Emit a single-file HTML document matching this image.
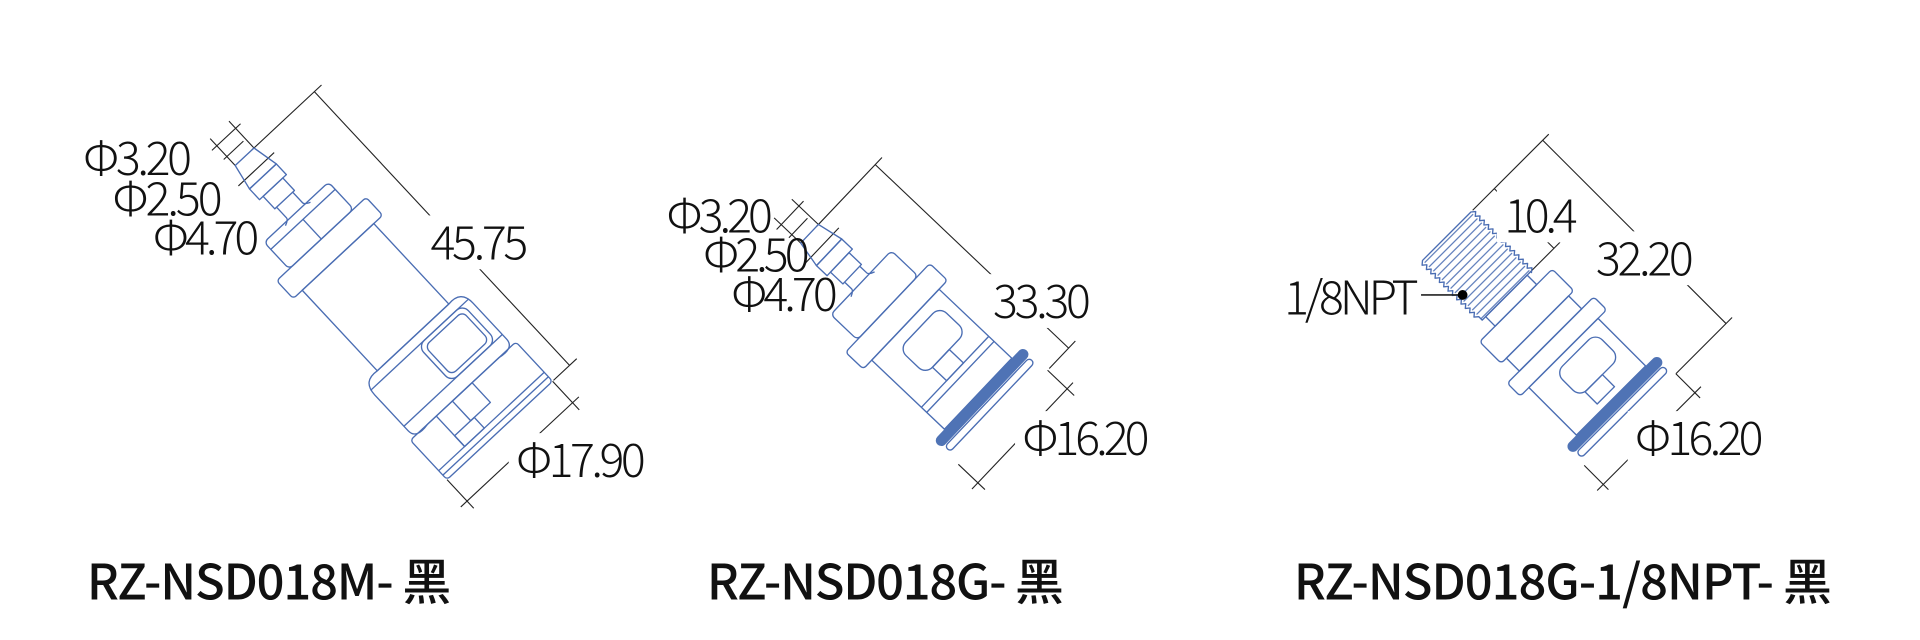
<!DOCTYPE html>
<html><head><meta charset="utf-8"><style>
html,body{margin:0;padding:0;background:#fff;}
svg{display:block;}
.b{fill:none;stroke:#4a6db3;stroke-width:1.1;stroke-linejoin:round;}
.k{fill:none;stroke:#222;stroke-width:0.9;}
.t{font-family:"Noto Sans CJK SC","Liberation Sans",sans-serif;fill:#111;font-size:38px;font-weight:300;}
.h{font-family:"Noto Sans CJK SC","Liberation Sans",sans-serif;fill:#111;font-size:40px;font-weight:500;}
.w{fill:#fff;}
</style></head><body>
<svg width="1920" height="640" viewBox="0 0 1570 523" xmlns="http://www.w3.org/2000/svg">
<defs>
<pattern id="thr" patternUnits="userSpaceOnUse" width="5" height="10"><line x1="2.5" y1="0" x2="2.5" y2="10" stroke="#4a6db3" stroke-width="0.9"/></pattern>
<pattern id="hat" patternUnits="userSpaceOnUse" width="4" height="4" patternTransform="rotate(30)"><line x1="0" y1="0" x2="0" y2="4" stroke="#9fb3dd" stroke-width="1"/></pattern>
</defs>

<!-- ===== Drawing 1 ===== -->
<g transform="translate(200,128) rotate(47)">
  <line class="k" x1="0" y1="-86" x2="0" y2="-8"/>
  <line class="k" x1="0" y1="-78" x2="306" y2="-78"/>
  <line class="k" x1="306" y1="-86" x2="306" y2="-60"/>
  <line class="k" x1="306" y1="-59" x2="338" y2="-59"/>
  <line class="k" x1="306" y1="59" x2="338" y2="59"/>
  <line class="k" x1="330" y1="-66" x2="330" y2="66"/>
  <line class="k" x1="-30" y1="-10.5" x2="0" y2="-10.5"/>
  <line class="k" x1="-30" y1="10.5" x2="0" y2="10.5"/>
  <line class="k" x1="-22" y1="-16" x2="-22" y2="16"/>
  <line class="k" x1="-10" y1="-8" x2="-10" y2="14"/>
  <line class="k" x1="14" y1="-20" x2="14" y2="20"/>
  <path class="b" d="M0,-10.5 L22,-15 L22,15 L0,10.5 Z" fill="url(#hat)"/>
  <rect class="b" x="22" y="-15" width="12" height="30"/>
  <rect class="b" x="34" y="-11" width="14" height="22"/>
  <path class="b" d="M48,-9 L60,-9 Q62,-9 64,-14 M48,9 L60,9 Q62,9 64,14"/>
  <rect class="b" x="62" y="-36" width="30" height="72" rx="4"/>
  <line class="b" x1="70" y1="-36" x2="70" y2="36"/>
  <line class="b" x1="70" y1="0" x2="92" y2="0"/>
  <rect class="b" x="92" y="-50" width="20" height="100" rx="3"/>
  <rect class="b" x="112" y="-40" width="90" height="80"/>
  <path class="b" d="M202,-40 Q200,-55 215,-55 L255,-55 Q265,-55 262,-40 L262,40 Q265,55 255,55 L215,55 Q200,55 202,40 Z"/>
  <rect class="b" x="210" y="-48" width="40" height="50" rx="7"/>
  <rect class="b" x="214" y="-44" width="32" height="42" rx="5"/>
  <line class="b" x1="210" y1="-55" x2="210" y2="55"/>
  <line class="b" x1="250" y1="-55" x2="250" y2="55"/>
  <rect class="b" x="262" y="-59" width="44" height="118" rx="3"/>
  <line class="b" x1="296" y1="-59" x2="296" y2="59"/>
  <line class="b" x1="301" y1="-59" x2="301" y2="59"/>
  <rect class="b" x="262" y="-10" width="22" height="22"/>
  <rect class="b" x="284" y="8" width="12" height="22"/>
  <line class="b" x1="262" y1="30" x2="296" y2="30"/>
</g>
<text class="t" x="68" y="143" textLength="89">Φ3.20</text>
<text class="t" x="92" y="176" textLength="90">Φ2.50</text>
<text class="t" x="125" y="208" textLength="87">Φ4.70</text>
<rect class="w" x="346" y="176" width="92" height="44"/>
<text class="t" x="352" y="212" textLength="80">45.75</text>
<rect class="w" x="416" y="354" width="118" height="44"/>
<text class="t" x="422" y="390" textLength="106">Φ17.90</text>

<!-- ===== Drawing 2 ===== -->
<g transform="translate(662,191) rotate(43.5)">
  <line class="k" x1="0" y1="-86" x2="0" y2="-8"/>
  <line class="k" x1="0" y1="-78" x2="218" y2="-78"/>
  <line class="k" x1="218" y1="-86" x2="218" y2="-55"/>
  <line class="k" x1="218" y1="-53" x2="248" y2="-53"/>
  <line class="k" x1="218" y1="53" x2="248" y2="53"/>
  <line class="k" x1="240" y1="-60" x2="240" y2="60"/>
  <line class="k" x1="-30" y1="-10.5" x2="0" y2="-10.5"/>
  <line class="k" x1="-30" y1="10.5" x2="0" y2="10.5"/>
  <line class="k" x1="-22" y1="-16" x2="-22" y2="16"/>
  <line class="k" x1="-10" y1="-8" x2="-10" y2="14"/>
  <line class="k" x1="14" y1="-20" x2="14" y2="20"/>
  <path class="b" d="M0,-10.5 L22,-15 L22,15 L0,10.5 Z" fill="url(#hat)"/>
  <rect class="b" x="22" y="-15" width="12" height="30"/>
  <rect class="b" x="34" y="-11" width="14" height="22"/>
  <path class="b" d="M48,-9 L56,-9 Q58,-9 60,-14 M48,9 L56,9 Q58,9 60,14"/>
  <rect class="b" x="58" y="-36" width="30" height="72" rx="4"/>
  <rect class="b" x="88" y="-50" width="20" height="100" rx="3"/>
  <rect class="b" x="108" y="-40" width="82" height="80"/>
  <rect class="b" x="118" y="-30" width="30" height="48" rx="8"/>
  <rect class="b" x="148" y="-10" width="16" height="20"/>
  <line class="b" x1="164" y1="-40" x2="164" y2="40"/>
  <line class="b" x1="170" y1="-40" x2="170" y2="40"/>
  <rect x="190" y="-53" width="9" height="106" rx="4.5" fill="#4f73b5"/>
  <rect class="b" x="200" y="-50" width="6" height="100" rx="3"/>
</g>
<text class="t" x="545" y="190" textLength="87">Φ3.20</text>
<text class="t" x="575" y="222" textLength="87">Φ2.50</text>
<text class="t" x="598" y="254" textLength="87">Φ4.70</text>
<rect class="w" x="806" y="224" width="92" height="44"/>
<text class="t" x="812" y="260" textLength="80">33.30</text>
<rect class="w" x="830" y="336" width="116" height="44"/>
<text class="t" x="836" y="372" textLength="104">Φ16.20</text>

<!-- ===== Drawing 3 ===== -->
<g transform="translate(1183,193) rotate(45)">
  <line class="k" x1="0" y1="-118" x2="0" y2="-30"/>
  <line class="k" x1="0" y1="-111" x2="212" y2="-111"/>
  <line class="k" x1="212" y1="-118" x2="212" y2="-53"/>
  <line class="k" x1="0" y1="-55" x2="69" y2="-55"/>
  <line class="k" x1="69" y1="-62" x2="69" y2="-26"/>
  <line class="k" x1="212" y1="-53" x2="240" y2="-53"/>
  <line class="k" x1="212" y1="53" x2="240" y2="53"/>
  <line class="k" x1="234" y1="-60" x2="234" y2="60"/>
  <rect x="0" y="-28" width="69" height="56" fill="url(#thr)"/>
  <path class="b" d="M0,-28 l2.5,-3 l2.5,3 l2.5,-3 l2.5,3 l2.5,-3 l2.5,3 l2.5,-3 l2.5,3 l2.5,-3 l2.5,3 l2.5,-3 l2.5,3 l2.5,-3 l2.5,3 l2.5,-3 l2.5,3 l2.5,-3 l2.5,3 l2.5,-3 l2.5,3 l2.5,-3 l2.5,3 l2.5,-3 l2.5,3 l2.5,-3 l2.5,3 l2.5,-3 l2.5,3 L69,-28 L69,28 L65,28 l-2.5,3 l-2.5,-3 l-2.5,3 l-2.5,-3 l-2.5,3 l-2.5,-3 l-2.5,3 l-2.5,-3 l-2.5,3 l-2.5,-3 l-2.5,3 l-2.5,-3 l-2.5,3 l-2.5,-3 l-2.5,3 l-2.5,-3 l-2.5,3 l-2.5,-3 l-2.5,3 l-2.5,-3 l-2.5,3 l-2.5,-3 l-2.5,3 l-2.5,-3 l-2.5,3 l-2.5,-3 L0,28 Z"/>
  <rect class="b" x="69" y="-24" width="11" height="48"/>
  <rect class="b" x="80" y="-42" width="25" height="84" rx="3"/>
  <rect class="b" x="105" y="-36" width="15" height="72"/>
  <rect class="b" x="120" y="-50" width="15" height="100" rx="3"/>
  <rect class="b" x="135" y="-40" width="55" height="80"/>
  <rect class="b" x="142" y="-30" width="28" height="46" rx="8"/>
  <rect class="b" x="170" y="-10" width="14" height="20"/>
  <rect x="190" y="-53" width="9" height="106" rx="4.5" fill="#4f73b5"/>
  <rect class="b" x="200" y="-50" width="6" height="100" rx="3"/>
</g>
<line class="k" x1="1162" y1="241" x2="1195" y2="241" style="stroke-width:1.4"/>
<circle cx="1196" cy="241" r="4" fill="#000"/>
<text class="t" x="1050" y="257" textLength="110">1/8NPT</text>
<rect class="w" x="1224" y="154" width="72" height="44"/>
<text class="t" x="1230" y="190" textLength="60">10.4</text>
<rect class="w" x="1299" y="189" width="92" height="44"/>
<text class="t" x="1305" y="225" textLength="80">32.20</text>
<rect class="w" x="1331" y="336" width="117" height="44"/>
<text class="t" x="1337" y="372" textLength="105">Φ16.20</text>

<text class="h" x="71" y="490" textLength="298">RZ-NSD018M- 黑</text>
<text class="h" x="578" y="490" textLength="292">RZ-NSD018G- 黑</text>
<text class="h" x="1058" y="490" textLength="440">RZ-NSD018G-1/8NPT- 黑</text>
</svg>
</body></html>
